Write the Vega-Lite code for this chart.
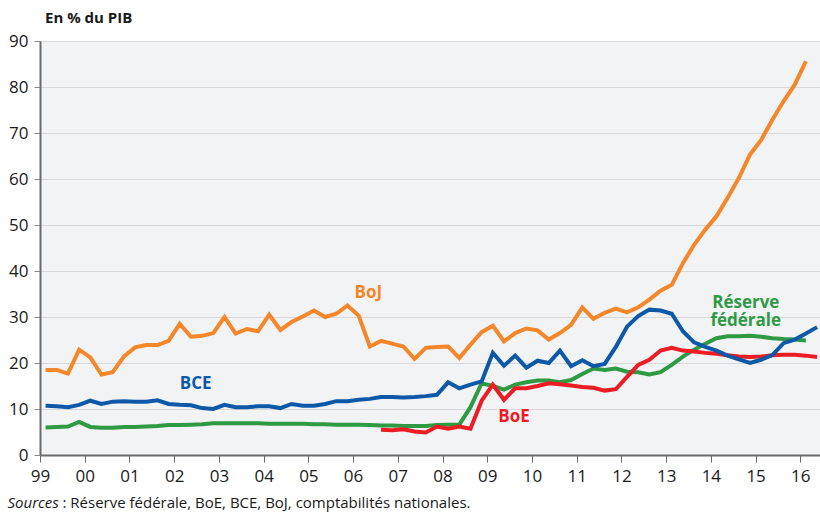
{
  "$schema": "https://vega.github.io/schema/vega-lite/v6.json",
  "width": 780,
  "height": 414,
  "autosize": {"type": "none"},
  "padding": {"left": 40, "top": 41, "right": 0, "bottom": 59},
  "background": "white",
  "config": {
    "view": {"fill": "#f2f3f5", "stroke": null},
    "font": "Open Sans"
  },
  "title": {
    "text": "En % du PIB",
    "anchor": "start",
    "frame": "group",
    "fontSize": 15,
    "fontWeight": "bold",
    "color": "#1a1a1a",
    "dx": 5,
    "offset": -6,
    "baseline": "alphabetic"
  },
  "datasets": {
    "series": [
      {"s":"Fed","t":1999.125,"v":6.0},{"s":"Fed","t":1999.375,"v":6.1},{"s":"Fed","t":1999.625,"v":6.2},{"s":"Fed","t":1999.875,"v":7.2},
      {"s":"Fed","t":2000.125,"v":6.1},{"s":"Fed","t":2000.375,"v":5.9},{"s":"Fed","t":2000.625,"v":5.9},{"s":"Fed","t":2000.875,"v":6.1},
      {"s":"Fed","t":2001.125,"v":6.1},{"s":"Fed","t":2001.375,"v":6.2},{"s":"Fed","t":2001.625,"v":6.3},{"s":"Fed","t":2001.875,"v":6.5},
      {"s":"Fed","t":2002.125,"v":6.5},{"s":"Fed","t":2002.375,"v":6.6},{"s":"Fed","t":2002.625,"v":6.7},{"s":"Fed","t":2002.875,"v":6.9},
      {"s":"Fed","t":2003.125,"v":6.9},{"s":"Fed","t":2003.375,"v":6.9},{"s":"Fed","t":2003.625,"v":6.9},{"s":"Fed","t":2003.875,"v":6.9},
      {"s":"Fed","t":2004.125,"v":6.8},{"s":"Fed","t":2004.375,"v":6.8},{"s":"Fed","t":2004.625,"v":6.8},{"s":"Fed","t":2004.875,"v":6.8},
      {"s":"Fed","t":2005.125,"v":6.7},{"s":"Fed","t":2005.375,"v":6.7},{"s":"Fed","t":2005.625,"v":6.6},{"s":"Fed","t":2005.875,"v":6.6},
      {"s":"Fed","t":2006.125,"v":6.6},{"s":"Fed","t":2006.375,"v":6.5},{"s":"Fed","t":2006.625,"v":6.4},{"s":"Fed","t":2006.875,"v":6.4},
      {"s":"Fed","t":2007.125,"v":6.3},{"s":"Fed","t":2007.375,"v":6.3},{"s":"Fed","t":2007.625,"v":6.3},{"s":"Fed","t":2007.875,"v":6.5},
      {"s":"Fed","t":2008.125,"v":6.6},{"s":"Fed","t":2008.375,"v":6.6},{"s":"Fed","t":2008.625,"v":10.4},{"s":"Fed","t":2008.875,"v":15.6},
      {"s":"Fed","t":2009.125,"v":15.0},{"s":"Fed","t":2009.375,"v":14.2},{"s":"Fed","t":2009.625,"v":15.3},{"s":"Fed","t":2009.875,"v":15.8},
      {"s":"Fed","t":2010.125,"v":16.2},{"s":"Fed","t":2010.375,"v":16.2},{"s":"Fed","t":2010.625,"v":15.8},{"s":"Fed","t":2010.875,"v":16.3},
      {"s":"Fed","t":2011.125,"v":17.6},{"s":"Fed","t":2011.375,"v":18.8},{"s":"Fed","t":2011.625,"v":18.5},{"s":"Fed","t":2011.875,"v":18.8},
      {"s":"Fed","t":2012.125,"v":18.1},{"s":"Fed","t":2012.375,"v":18.0},{"s":"Fed","t":2012.625,"v":17.5},{"s":"Fed","t":2012.875,"v":18.0},
      {"s":"Fed","t":2013.125,"v":19.6},{"s":"Fed","t":2013.375,"v":21.4},{"s":"Fed","t":2013.625,"v":22.9},{"s":"Fed","t":2013.875,"v":24.2},
      {"s":"Fed","t":2014.125,"v":25.4},{"s":"Fed","t":2014.375,"v":25.8},{"s":"Fed","t":2014.625,"v":25.8},{"s":"Fed","t":2014.875,"v":25.9},
      {"s":"Fed","t":2015.125,"v":25.7},{"s":"Fed","t":2015.375,"v":25.4},{"s":"Fed","t":2015.625,"v":25.2},{"s":"Fed","t":2015.875,"v":25.1},
      {"s":"Fed","t":2016.125,"v":24.9},

      {"s":"BoE","t":2006.625,"v":5.5},{"s":"BoE","t":2006.875,"v":5.4},
      {"s":"BoE","t":2007.125,"v":5.6},{"s":"BoE","t":2007.375,"v":5.1},{"s":"BoE","t":2007.625,"v":4.9},{"s":"BoE","t":2007.875,"v":6.2},
      {"s":"BoE","t":2008.125,"v":5.7},{"s":"BoE","t":2008.375,"v":6.2},{"s":"BoE","t":2008.625,"v":5.7},{"s":"BoE","t":2008.875,"v":11.8},
      {"s":"BoE","t":2009.125,"v":15.3},{"s":"BoE","t":2009.375,"v":12.0},{"s":"BoE","t":2009.625,"v":14.5},{"s":"BoE","t":2009.875,"v":14.5},
      {"s":"BoE","t":2010.125,"v":15.0},{"s":"BoE","t":2010.375,"v":15.6},{"s":"BoE","t":2010.625,"v":15.4},{"s":"BoE","t":2010.875,"v":15.1},
      {"s":"BoE","t":2011.125,"v":14.8},{"s":"BoE","t":2011.375,"v":14.6},{"s":"BoE","t":2011.625,"v":14.0},{"s":"BoE","t":2011.875,"v":14.3},
      {"s":"BoE","t":2012.125,"v":17.0},{"s":"BoE","t":2012.375,"v":19.6},{"s":"BoE","t":2012.625,"v":20.7},{"s":"BoE","t":2012.875,"v":22.7},
      {"s":"BoE","t":2013.125,"v":23.3},{"s":"BoE","t":2013.375,"v":22.7},{"s":"BoE","t":2013.625,"v":22.5},{"s":"BoE","t":2013.875,"v":22.2},
      {"s":"BoE","t":2014.125,"v":22.0},{"s":"BoE","t":2014.375,"v":21.7},{"s":"BoE","t":2014.625,"v":21.4},{"s":"BoE","t":2014.875,"v":21.3},
      {"s":"BoE","t":2015.125,"v":21.4},{"s":"BoE","t":2015.375,"v":21.7},{"s":"BoE","t":2015.625,"v":21.8},{"s":"BoE","t":2015.875,"v":21.8},
      {"s":"BoE","t":2016.125,"v":21.6},{"s":"BoE","t":2016.375,"v":21.3},

      {"s":"BCE","t":1999.125,"v":10.7},{"s":"BCE","t":1999.375,"v":10.6},{"s":"BCE","t":1999.625,"v":10.4},{"s":"BCE","t":1999.875,"v":10.9},
      {"s":"BCE","t":2000.125,"v":11.8},{"s":"BCE","t":2000.375,"v":11.1},{"s":"BCE","t":2000.625,"v":11.6},{"s":"BCE","t":2000.875,"v":11.7},
      {"s":"BCE","t":2001.125,"v":11.6},{"s":"BCE","t":2001.375,"v":11.6},{"s":"BCE","t":2001.625,"v":11.9},{"s":"BCE","t":2001.875,"v":11.1},
      {"s":"BCE","t":2002.125,"v":10.9},{"s":"BCE","t":2002.375,"v":10.8},{"s":"BCE","t":2002.625,"v":10.2},{"s":"BCE","t":2002.875,"v":10.0},
      {"s":"BCE","t":2003.125,"v":10.9},{"s":"BCE","t":2003.375,"v":10.4},{"s":"BCE","t":2003.625,"v":10.4},{"s":"BCE","t":2003.875,"v":10.6},
      {"s":"BCE","t":2004.125,"v":10.6},{"s":"BCE","t":2004.375,"v":10.2},{"s":"BCE","t":2004.625,"v":11.1},{"s":"BCE","t":2004.875,"v":10.7},
      {"s":"BCE","t":2005.125,"v":10.7},{"s":"BCE","t":2005.375,"v":11.1},{"s":"BCE","t":2005.625,"v":11.7},{"s":"BCE","t":2005.875,"v":11.7},
      {"s":"BCE","t":2006.125,"v":12.0},{"s":"BCE","t":2006.375,"v":12.2},{"s":"BCE","t":2006.625,"v":12.6},{"s":"BCE","t":2006.875,"v":12.6},
      {"s":"BCE","t":2007.125,"v":12.5},{"s":"BCE","t":2007.375,"v":12.6},{"s":"BCE","t":2007.625,"v":12.8},{"s":"BCE","t":2007.875,"v":13.1},
      {"s":"BCE","t":2008.125,"v":15.8},{"s":"BCE","t":2008.375,"v":14.5},{"s":"BCE","t":2008.625,"v":15.3},{"s":"BCE","t":2008.875,"v":16.0},
      {"s":"BCE","t":2009.125,"v":22.2},{"s":"BCE","t":2009.375,"v":19.4},{"s":"BCE","t":2009.625,"v":21.6},{"s":"BCE","t":2009.875,"v":19.0},
      {"s":"BCE","t":2010.125,"v":20.5},{"s":"BCE","t":2010.375,"v":20.0},{"s":"BCE","t":2010.625,"v":22.7},{"s":"BCE","t":2010.875,"v":19.3},
      {"s":"BCE","t":2011.125,"v":20.6},{"s":"BCE","t":2011.375,"v":19.3},{"s":"BCE","t":2011.625,"v":19.8},{"s":"BCE","t":2011.875,"v":23.5},
      {"s":"BCE","t":2012.125,"v":27.9},{"s":"BCE","t":2012.375,"v":30.2},{"s":"BCE","t":2012.625,"v":31.6},{"s":"BCE","t":2012.875,"v":31.4},
      {"s":"BCE","t":2013.125,"v":30.7},{"s":"BCE","t":2013.375,"v":26.9},{"s":"BCE","t":2013.625,"v":24.5},{"s":"BCE","t":2013.875,"v":23.5},
      {"s":"BCE","t":2014.125,"v":22.7},{"s":"BCE","t":2014.375,"v":21.6},{"s":"BCE","t":2014.625,"v":20.8},{"s":"BCE","t":2014.875,"v":20.0},
      {"s":"BCE","t":2015.125,"v":20.7},{"s":"BCE","t":2015.375,"v":21.7},{"s":"BCE","t":2015.625,"v":24.3},{"s":"BCE","t":2015.875,"v":25.1},
      {"s":"BCE","t":2016.125,"v":26.4},{"s":"BCE","t":2016.375,"v":27.8},

      {"s":"BoJ","t":1999.125,"v":18.5},{"s":"BoJ","t":1999.375,"v":18.5},{"s":"BoJ","t":1999.625,"v":17.7},{"s":"BoJ","t":1999.875,"v":22.9},
      {"s":"BoJ","t":2000.125,"v":21.2},{"s":"BoJ","t":2000.375,"v":17.5},{"s":"BoJ","t":2000.625,"v":18.0},{"s":"BoJ","t":2000.875,"v":21.4},
      {"s":"BoJ","t":2001.125,"v":23.4},{"s":"BoJ","t":2001.375,"v":23.9},{"s":"BoJ","t":2001.625,"v":23.9},{"s":"BoJ","t":2001.875,"v":24.8},
      {"s":"BoJ","t":2002.125,"v":28.5},{"s":"BoJ","t":2002.375,"v":25.7},{"s":"BoJ","t":2002.625,"v":25.9},{"s":"BoJ","t":2002.875,"v":26.5},
      {"s":"BoJ","t":2003.125,"v":30.0},{"s":"BoJ","t":2003.375,"v":26.4},{"s":"BoJ","t":2003.625,"v":27.4},{"s":"BoJ","t":2003.875,"v":26.9},
      {"s":"BoJ","t":2004.125,"v":30.5},{"s":"BoJ","t":2004.375,"v":27.2},{"s":"BoJ","t":2004.625,"v":28.9},{"s":"BoJ","t":2004.875,"v":30.1},
      {"s":"BoJ","t":2005.125,"v":31.4},{"s":"BoJ","t":2005.375,"v":30.0},{"s":"BoJ","t":2005.625,"v":30.7},{"s":"BoJ","t":2005.875,"v":32.5},
      {"s":"BoJ","t":2006.125,"v":30.3},{"s":"BoJ","t":2006.375,"v":23.6},{"s":"BoJ","t":2006.625,"v":24.8},{"s":"BoJ","t":2006.875,"v":24.2},
      {"s":"BoJ","t":2007.125,"v":23.6},{"s":"BoJ","t":2007.375,"v":20.9},{"s":"BoJ","t":2007.625,"v":23.3},{"s":"BoJ","t":2007.875,"v":23.5},
      {"s":"BoJ","t":2008.125,"v":23.6},{"s":"BoJ","t":2008.375,"v":21.1},{"s":"BoJ","t":2008.625,"v":24.0},{"s":"BoJ","t":2008.875,"v":26.7},
      {"s":"BoJ","t":2009.125,"v":28.1},{"s":"BoJ","t":2009.375,"v":24.7},{"s":"BoJ","t":2009.625,"v":26.5},{"s":"BoJ","t":2009.875,"v":27.5},
      {"s":"BoJ","t":2010.125,"v":27.1},{"s":"BoJ","t":2010.375,"v":25.1},{"s":"BoJ","t":2010.625,"v":26.5},{"s":"BoJ","t":2010.875,"v":28.3},
      {"s":"BoJ","t":2011.125,"v":32.1},{"s":"BoJ","t":2011.375,"v":29.6},{"s":"BoJ","t":2011.625,"v":30.9},{"s":"BoJ","t":2011.875,"v":31.8},
      {"s":"BoJ","t":2012.125,"v":31.0},{"s":"BoJ","t":2012.375,"v":32.1},{"s":"BoJ","t":2012.625,"v":33.8},{"s":"BoJ","t":2012.875,"v":35.7},
      {"s":"BoJ","t":2013.125,"v":37.0},{"s":"BoJ","t":2013.375,"v":41.7},{"s":"BoJ","t":2013.625,"v":45.7},{"s":"BoJ","t":2013.875,"v":49.0},
      {"s":"BoJ","t":2014.125,"v":51.9},{"s":"BoJ","t":2014.375,"v":55.9},{"s":"BoJ","t":2014.625,"v":60.2},{"s":"BoJ","t":2014.875,"v":65.3},
      {"s":"BoJ","t":2015.125,"v":68.5},{"s":"BoJ","t":2015.375,"v":72.9},{"s":"BoJ","t":2015.625,"v":76.9},{"s":"BoJ","t":2015.875,"v":80.5},
      {"s":"BoJ","t":2016.125,"v":85.6}
    ],
    "labels": [
      {"s":"BoJ","t":2006.34,"v":35.3,"txt":"BoJ"},
      {"s":"BCE","t":2002.48,"v":15.35,"txt":"BCE"},
      {"s":"BoE","t":2009.6,"v":8.2,"txt":"BoE"},
      {"s":"Fed","t":2014.78,"v":33.1,"txt":"Réserve\nfédérale"}
    ]
  },
  "encoding": {
    "x": {
      "field": "t",
      "type": "quantitative",
      "scale": {"domain": [1999, 2016.44], "nice": false, "zero": false},
      "axis": {
        "values": [1999,2000,2001,2002,2003,2004,2005,2006,2007,2008,2009,2010,2011,2012,2013,2014,2015,2016],
        "labelExpr": "substring(toString(datum.value), 2)",
        "grid": false,
        "domainColor": "#6a6a6a",
        "domainWidth": 2,
        "tickColor": "#6a6a6a",
        "tickSize": 7,
        "tickWidth": 1,
        "labelFontSize": 17,
        "labelColor": "#1a1a1a",
        "labelPadding": 6,
        "labelFlush": false,
        "title": ": Réserve fédérale, BoE, BCE, BoJ, comptabilités nationales.",
        "titleFontSize": 15,
        "titleFontWeight": "normal",
        "titleColor": "#1a1a1a",
        "titleAlign": "left",
        "titleAnchor": "start",
        "titleBaseline": "alphabetic",
        "titleX": 22,
        "titleY": 52
      }
    },
    "y": {
      "field": "v",
      "type": "quantitative",
      "scale": {"domain": [0, 90], "nice": false},
      "axis": {
        "values": [0,10,20,30,40,50,60,70,80,90],
        "grid": true,
        "gridColor": "#d9d9dc",
        "gridWidth": 1,
        "domainColor": "#6a6a6a",
        "domainWidth": 2,
        "tickColor": "#8a8a8a",
        "tickSize": 6,
        "labelFontSize": 17,
        "labelColor": "#1a1a1a",
        "labelPadding": 6,
        "title": "Sources",
        "titleAngle": 0,
        "titleFontSize": 15,
        "titleFontWeight": "normal",
        "titleFontStyle": "italic",
        "titleColor": "#1a1a1a",
        "titleAlign": "left",
        "titleBaseline": "alphabetic",
        "titleX": -33,
        "titleY": 466
      }
    },
    "color": {
      "field": "s",
      "type": "nominal",
      "scale": {
        "domain": ["BoJ", "BCE", "BoE", "Fed"],
        "range": ["#f5862a", "#0d59a7", "#ec1c24", "#2e9a44"]
      },
      "legend": null
    }
  },
  "layer": [
    {
      "data": {"name": "series"},
      "mark": {"type": "line", "strokeWidth": 4},
      "encoding": {"detail": {"field": "s"}}
    },
    {
      "data": {"name": "labels"},
      "mark": {"type": "text", "fontSize": 17, "fontWeight": "bold", "align": "center", "baseline": "middle", "lineBreak": "\n", "lineHeight": 18},
      "encoding": {"text": {"field": "txt"}}
    }
  ]
}
